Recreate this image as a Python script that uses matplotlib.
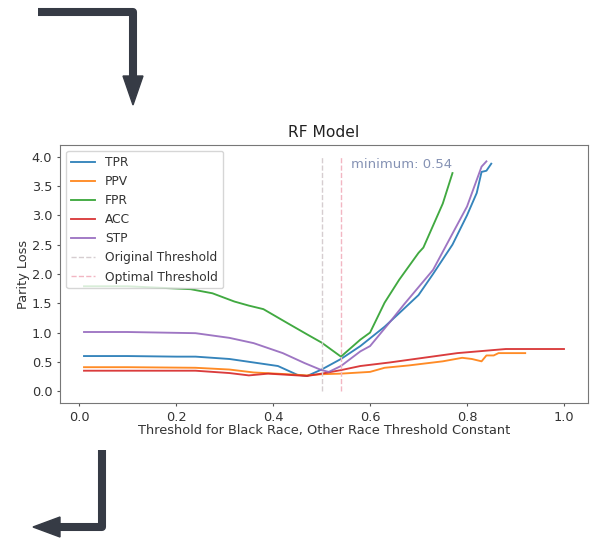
import matplotlib
matplotlib.use("Agg")
import matplotlib.pyplot as plt
from matplotlib.patches import Polygon

# Parity loss curves, one x list per series
tpr_x = [0.01, 0.10, 0.20, 0.24, 0.31, 0.36, 0.41, 0.45, 0.47, 0.50, 0.54, 0.58,
         0.63, 0.66, 0.70, 0.73, 0.77, 0.80, 0.82, 0.83, 0.84, 0.85]
tpr_y = [0.60, 0.60, 0.59, 0.59, 0.55, 0.49, 0.43, 0.28, 0.26, 0.37, 0.55, 0.77,
         1.10, 1.33, 1.64, 2.00, 2.50, 3.00, 3.38, 3.74, 3.76, 3.88]

ppv_x = [0.01, 0.10, 0.24, 0.31, 0.36, 0.43, 0.47, 0.50, 0.54, 0.58, 0.60, 0.63,
         0.68, 0.75, 0.79, 0.81, 0.83, 0.84, 0.855, 0.865, 0.92]
ppv_y = [0.41, 0.41, 0.40, 0.37, 0.32, 0.29, 0.27, 0.29, 0.30, 0.32, 0.33, 0.40,
         0.44, 0.51, 0.57, 0.55, 0.51, 0.61, 0.61, 0.65, 0.65]

fpr_x = [0.01, 0.10, 0.23, 0.275, 0.32, 0.35, 0.38, 0.43, 0.47, 0.50, 0.54, 0.58,
         0.60, 0.63, 0.66, 0.70, 0.71, 0.75, 0.77]
fpr_y = [1.79, 1.79, 1.74, 1.67, 1.53, 1.46, 1.40, 1.16, 0.97, 0.83, 0.59, 0.88,
         1.00, 1.51, 1.90, 2.36, 2.45, 3.20, 3.72]

acc_x = [0.01, 0.10, 0.24, 0.31, 0.35, 0.39, 0.43, 0.47, 0.50, 0.54, 0.58, 0.64,
         0.71, 0.78, 0.88, 1.00]
acc_y = [0.35, 0.35, 0.35, 0.31, 0.27, 0.30, 0.28, 0.26, 0.30, 0.36, 0.43, 0.49,
         0.57, 0.65, 0.72, 0.72]

stp_x = [0.01, 0.10, 0.24, 0.31, 0.36, 0.42, 0.465, 0.50, 0.515, 0.54, 0.58, 0.60,
         0.64, 0.67, 0.73, 0.80, 0.83, 0.84]
stp_y = [1.01, 1.01, 0.99, 0.91, 0.82, 0.65, 0.48, 0.36, 0.33, 0.43, 0.68, 0.77,
         1.17, 1.48, 2.07, 3.15, 3.83, 3.92]

original_threshold = 0.50
optimal_threshold = 0.54

fig = plt.figure(figsize=(5.97, 5.38), dpi=100)

# main chart
ax = fig.add_axes([0.1005, 0.251, 0.8844, 0.4796])
line_kw = dict(lw=1.35, alpha=0.9)
ax.plot(tpr_x, tpr_y, color="tab:blue", label="TPR", **line_kw)
ax.plot(ppv_x, ppv_y, color="tab:orange", label="PPV", **line_kw)
ax.plot(fpr_x, fpr_y, color="tab:green", label="FPR", **line_kw)
ax.plot(acc_x, acc_y, color="tab:red", label="ACC", **line_kw)
ax.plot(stp_x, stp_y, color="tab:purple", label="STP", **line_kw)
ax.vlines(original_threshold, 0, 4, colors="#d6cdd0", linestyles="--", lw=1,
          label="Original Threshold")
ax.vlines(optimal_threshold, 0, 4, colors="#f2b6c2", linestyles="--", lw=1,
          label="Optimal Threshold")
ax.text(optimal_threshold + 0.02, 3.87, "minimum: %.2f" % optimal_threshold,
        color="#8592b4", fontsize=9.5, va="center")

ax.set_xlim(-0.0395, 1.0495)
ax.set_ylim(-0.2, 4.2)
ax.set_xticks([0.0, 0.2, 0.4, 0.6, 0.8, 1.0])
ax.set_yticks([0.0, 0.5, 1.0, 1.5, 2.0, 2.5, 3.0, 3.5, 4.0])
ax.tick_params(labelsize=9.3, colors="#555555", labelcolor="#333333",
               length=2.5, pad=3)
for s in ax.spines.values():
    s.set_color("#777777")
ax.set_title("RF Model", fontsize=11.2, color="#222222")
ax.set_xlabel("Threshold for Black Race, Other Race Threshold Constant",
              fontsize=9.3, color="#333333", labelpad=0)
ax.set_ylabel("Parity Loss", fontsize=9.3, color="#333333", labelpad=1)
ax.legend(loc="upper left", fontsize=8.8, labelcolor="#333333")

# decorative arrows, in pixel coordinates of the whole image
deco = fig.add_axes([0, 0, 1, 1], zorder=-1)
deco.set_xlim(0, 597)
deco.set_ylim(538, 0)
deco.axis("off")
arrow_col = "#363b45"
deco.plot([38, 133, 133], [12, 12, 78], color=arrow_col, lw=5.8,
          solid_joinstyle="round", solid_capstyle="butt")
deco.add_patch(Polygon([[123, 76], [143, 76], [133, 105]], closed=True,
                       color=arrow_col))
deco.plot([102, 102, 58], [450, 527, 527], color=arrow_col, lw=5.8,
          solid_joinstyle="round", solid_capstyle="butt")
deco.add_patch(Polygon([[60, 517], [60, 537], [33, 527]], closed=True,
                       color=arrow_col))

fig.savefig("out.png", dpi=100)
